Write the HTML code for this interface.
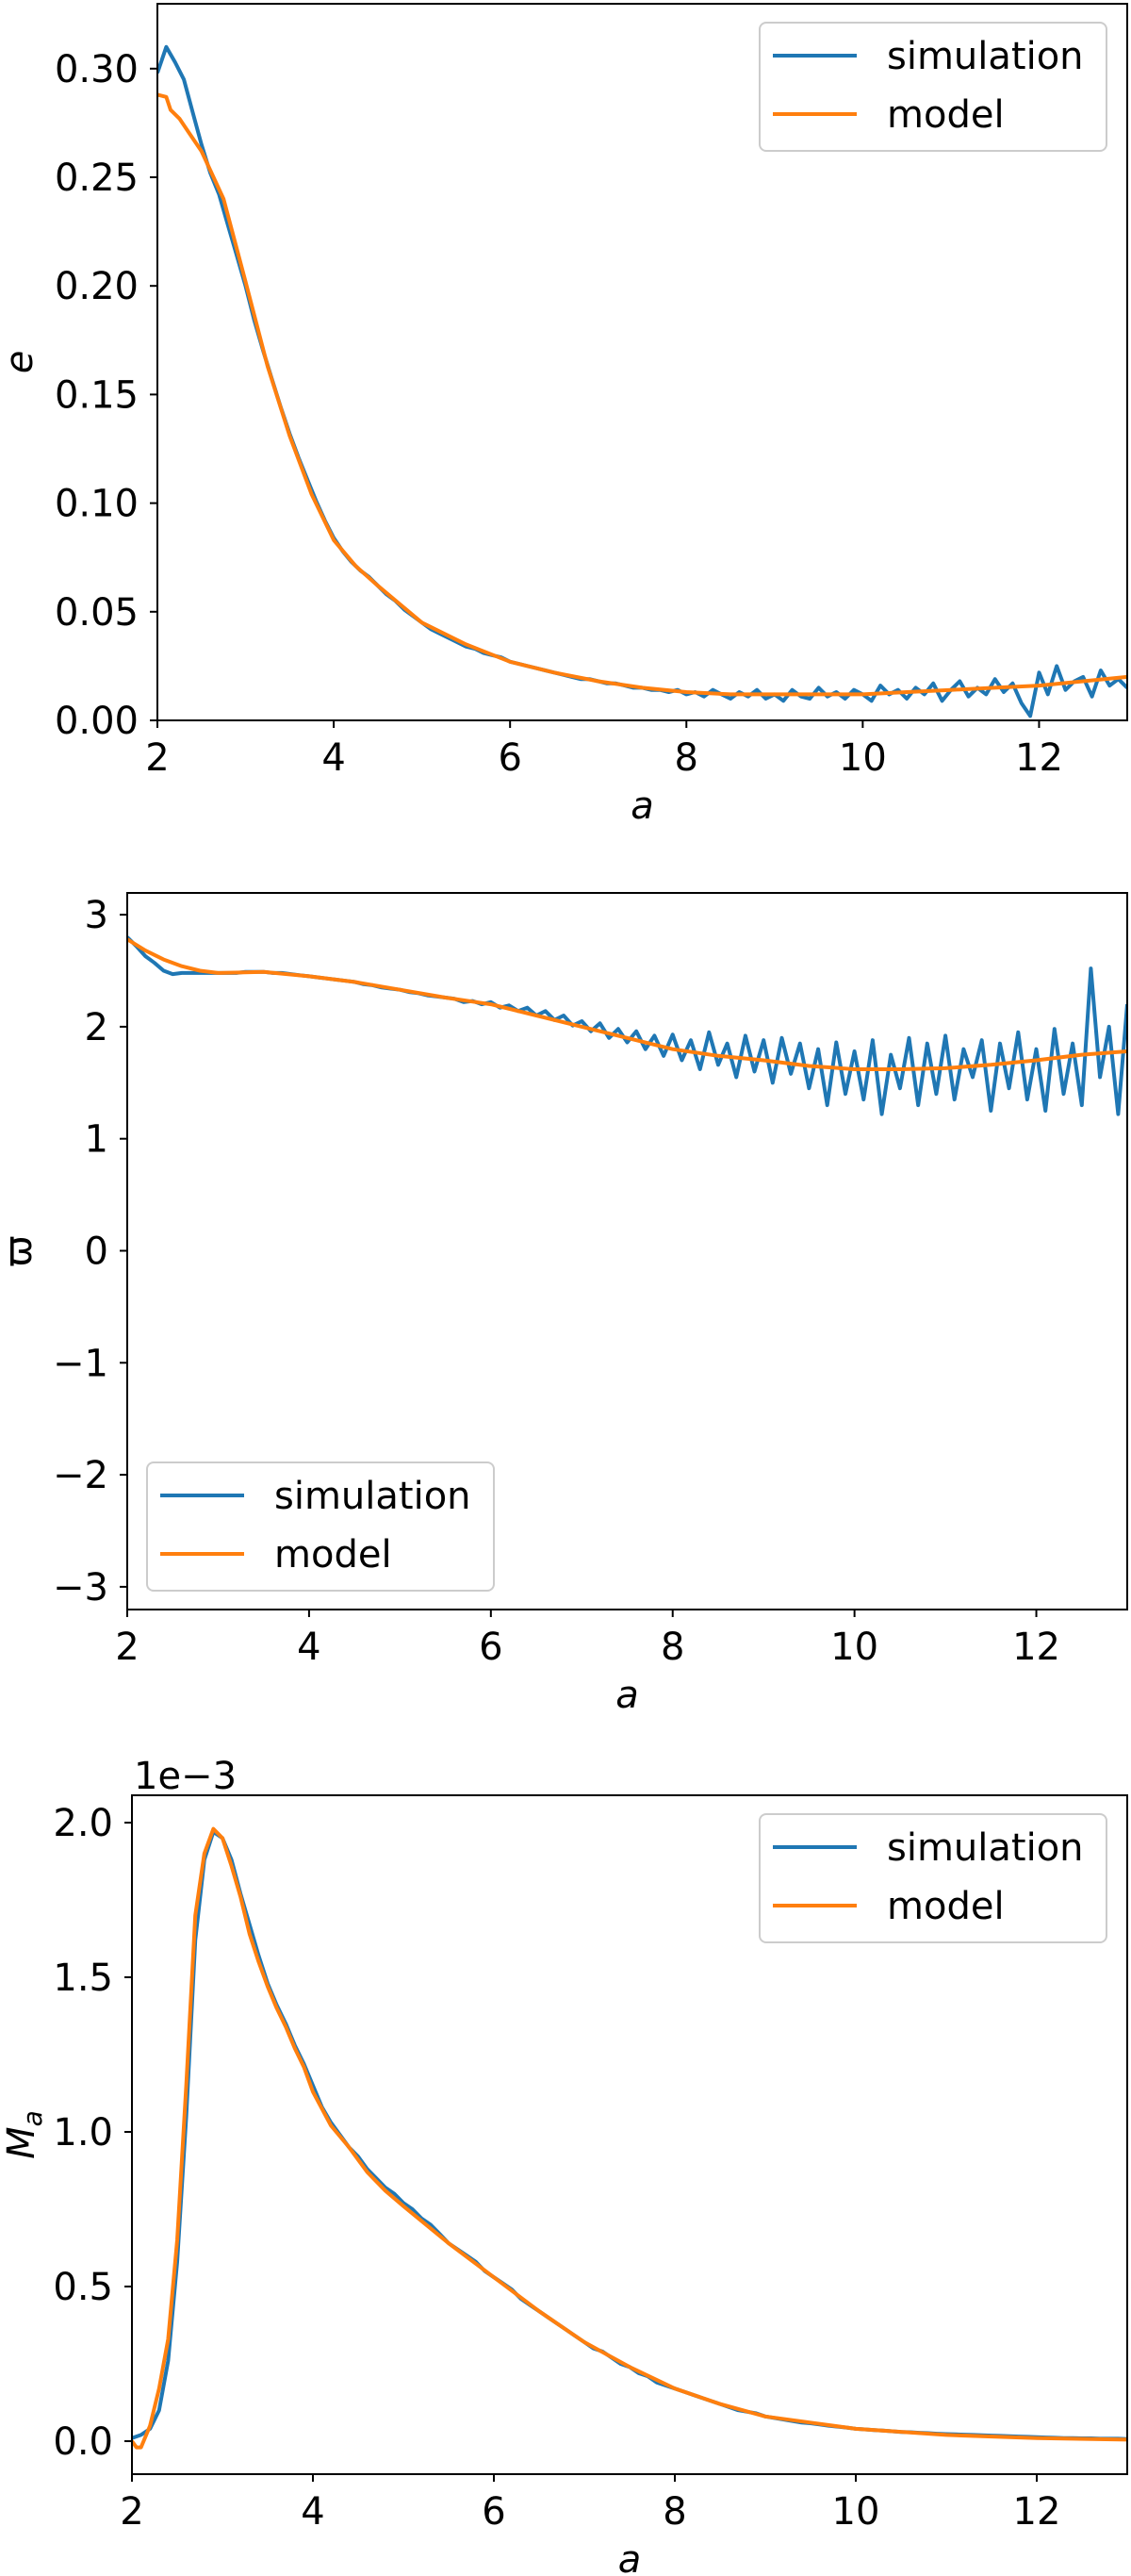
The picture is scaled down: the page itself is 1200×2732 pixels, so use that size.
<!DOCTYPE html>
<html><head><meta charset="utf-8"><style>
html,body{margin:0;padding:0;background:#fff;}
svg{display:block;font-family:"DejaVu Sans","Liberation Sans",sans-serif;}
</style></head><body>
<svg id="fig" width="1200" height="2732" viewBox="0 0 1200 2732" xmlns="http://www.w3.org/2000/svg"></svg>
<script>
// ---------- Panel 1: eccentricity ----------
const eSimA = [2.0,2.1,2.2,2.3,2.4,2.5,2.6,2.7,2.8,2.9,3.0,3.1,3.2,3.3,3.4,3.5,3.6,3.7,3.8,3.9,4.0,4.1,4.2,4.3,4.4,4.5,4.6,4.7,4.8,4.9,5.0,5.1,5.2,5.3,5.4,5.5,5.6,5.7,5.8,5.9,6.0,6.1,6.2,6.3,6.4,6.5,6.6,6.7,6.8,6.9,7.0,7.1,7.2,7.3,7.4,7.5,7.6,7.7,7.8,7.9,8.0,8.1,8.2,8.3,8.4,8.5,8.6,8.7,8.8,8.9,9.0,9.1,9.2,9.3,9.4,9.5,9.6,9.7,9.8,9.9,10.0,10.1,10.2,10.3,10.4,10.5,10.6,10.7,10.8,10.9,11.0,11.1,11.2,11.3,11.4,11.5,11.6,11.7,11.8,11.9,12.0,12.1,12.2,12.3,12.4,12.5,12.6,12.7,12.8,12.9,13.0];
const eSim = [0.298,0.310,0.303,0.295,0.280,0.265,0.252,0.242,0.228,0.214,0.200,0.184,0.170,0.157,0.144,0.132,0.121,0.111,0.101,0.092,0.084,0.078,0.073,0.069,0.066,0.062,0.058,0.055,0.051,0.048,0.045,0.042,0.040,0.038,0.036,0.034,0.033,0.031,0.030,0.029,0.027,0.026,0.025,0.024,0.023,0.022,0.021,0.020,0.019,0.019,0.018,0.017,0.017,0.016,0.015,0.015,0.014,0.014,0.013,0.014,0.012,0.013,0.011,0.014,0.012,0.010,0.013,0.011,0.014,0.010,0.012,0.009,0.014,0.011,0.010,0.015,0.011,0.013,0.010,0.014,0.012,0.009,0.016,0.012,0.014,0.010,0.015,0.012,0.017,0.009,0.014,0.018,0.011,0.015,0.012,0.019,0.013,0.017,0.008,0.002,0.022,0.012,0.025,0.014,0.018,0.020,0.011,0.023,0.016,0.019,0.015];
const eModA = [2.0,2.1,2.15,2.25,2.35,2.5,2.75,3.0,3.25,3.5,3.75,4.0,4.25,4.5,5.0,5.5,6.0,6.5,7.0,7.5,8.0,8.5,9.0,9.5,10.0,10.5,11.0,11.5,12.0,12.5,13.0];
const eMod = [0.288,0.287,0.281,0.277,0.271,0.262,0.240,0.202,0.163,0.131,0.104,0.083,0.071,0.062,0.045,0.035,0.027,0.022,0.018,0.015,0.013,0.012,0.012,0.012,0.012,0.013,0.014,0.015,0.016,0.018,0.020];
const eYTicks = [0.00,0.05,0.10,0.15,0.20,0.25,0.30];
const eYLabels = ["0.00","0.05","0.10","0.15","0.20","0.25","0.30"];

// ---------- Panel 2: longitude of pericentre ----------
const wSimA = eSimA;
const wSim = [2.80,2.72,2.63,2.57,2.50,2.47,2.48,2.48,2.48,2.48,2.48,2.48,2.48,2.49,2.49,2.49,2.48,2.48,2.47,2.46,2.45,2.44,2.43,2.42,2.41,2.40,2.38,2.37,2.35,2.34,2.33,2.31,2.30,2.28,2.27,2.26,2.25,2.22,2.23,2.20,2.22,2.17,2.19,2.14,2.17,2.10,2.14,2.06,2.10,2.01,2.05,1.96,2.03,1.90,1.98,1.86,1.96,1.80,1.92,1.74,1.93,1.70,1.88,1.62,1.95,1.66,1.85,1.55,1.92,1.60,1.88,1.50,1.90,1.58,1.85,1.45,1.80,1.30,1.86,1.40,1.78,1.35,1.88,1.22,1.75,1.45,1.90,1.30,1.85,1.40,1.92,1.35,1.80,1.55,1.88,1.25,1.85,1.45,1.95,1.35,1.80,1.25,1.98,1.40,1.85,1.30,2.52,1.55,2.00,1.22,2.20];
const wModA = [2.0,2.2,2.4,2.6,2.8,3.0,3.5,4.0,4.5,5.0,5.5,6.0,6.5,7.0,7.5,8.0,8.5,9.0,9.5,10.0,10.5,11.0,11.5,12.0,12.5,13.0];
const wMod = [2.78,2.68,2.60,2.54,2.50,2.48,2.49,2.45,2.40,2.33,2.26,2.20,2.10,2.00,1.90,1.80,1.74,1.70,1.65,1.62,1.62,1.63,1.66,1.70,1.75,1.78];
const wYTicks = [-3,-2,-1,0,1,2,3];
const wYLabels = ["\u22123","\u22122","\u22121","0","1","2","3"];

// ---------- Panel 3: M_a (units of 1e-3) ----------
const mSimA = eSimA;
const mSim = [0.01,0.02,0.04,0.10,0.26,0.58,1.05,1.62,1.88,1.97,1.95,1.88,1.77,1.67,1.57,1.48,1.41,1.35,1.28,1.22,1.15,1.08,1.03,0.99,0.95,0.92,0.88,0.85,0.82,0.80,0.77,0.75,0.72,0.70,0.67,0.64,0.62,0.60,0.58,0.55,0.53,0.51,0.49,0.46,0.44,0.42,0.40,0.38,0.36,0.34,0.32,0.30,0.29,0.27,0.25,0.24,0.22,0.21,0.19,0.18,0.17,0.16,0.15,0.14,0.13,0.12,0.11,0.10,0.095,0.09,0.08,0.075,0.07,0.065,0.06,0.058,0.054,0.05,0.047,0.044,0.04,0.038,0.036,0.034,0.032,0.030,0.029,0.027,0.026,0.024,0.023,0.022,0.021,0.020,0.019,0.018,0.017,0.016,0.015,0.014,0.013,0.012,0.011,0.010,0.010,0.009,0.009,0.008,0.008,0.008,0.007];
const mModA = [2.0,2.05,2.1,2.2,2.3,2.4,2.5,2.6,2.7,2.8,2.9,3.0,3.1,3.2,3.3,3.4,3.5,3.6,3.7,3.8,3.9,4.0,4.2,4.4,4.6,4.8,5.0,5.5,6.0,6.5,7.0,7.5,8.0,8.5,9.0,9.5,10.0,11.0,12.0,13.0];
const mMod = [0.0,-0.02,-0.02,0.05,0.17,0.33,0.65,1.15,1.70,1.90,1.98,1.95,1.86,1.76,1.64,1.55,1.47,1.40,1.34,1.27,1.21,1.13,1.02,0.95,0.87,0.81,0.76,0.64,0.53,0.42,0.32,0.24,0.17,0.12,0.08,0.06,0.04,0.02,0.01,0.005];
const mYTicks = [0.0,0.5,1.0,1.5,2.0];
const mYLabels = ["0.0","0.5","1.0","1.5","2.0"];

const xTicks = [2,4,6,8,10,12];
const xLabels = ["2","4","6","8","10","12"];

const NS = "http://www.w3.org/2000/svg";
const fig = document.getElementById('fig');
function mk(tag, attrs, parent){
  const el = document.createElementNS(NS, tag);
  for (const k in attrs) el.setAttribute(k, attrs[k]);
  (parent||fig).appendChild(el);
  return el;
}

function panel(p){
  const g = mk('g', {});
  
  
  const sx = v => p.left + (v - 2) / 11 * (p.right - p.left);
  const sy = v => p.y0px + (v - p.y0) * p.pxPerUnit * -1;
  // series
  function line(xs, ys, color, nm){
    let d = '';
    for (let i = 0; i < xs.length; i++) d += (i ? 'L' : 'M') + sx(xs[i]).toFixed(1) + ' ' + sy(ys[i]).toFixed(1);
    const pth = mk('path', {d: d, fill: 'none', stroke: color, 'stroke-width': 4, 'stroke-linejoin': 'round', 'stroke-linecap': 'square'}, g);
    
    
  }
  const clip = mk('clipPath', {id: 'clip-' + p.name}, g);
  mk('rect', {x: p.left, y: p.top, width: p.right - p.left, height: p.bottom - p.top}, clip);
  const sg = mk('g', {'clip-path': 'url(#clip-' + p.name + ')'}, g);
  const gg = g; 
  (function(){ const old = g; })();
  function lineIn(xs, ys, color, nm){
    let d = '';
    for (let i = 0; i < xs.length; i++) d += (i ? 'L' : 'M') + sx(xs[i]).toFixed(1) + ' ' + sy(ys[i]).toFixed(1);
    const pth = mk('path', {d: d, fill: 'none', stroke: color, 'stroke-width': 4, 'stroke-linejoin': 'round'}, sg);
    
    
  }
  lineIn(p.simA, p.sim, '#1f77b4', 'simulation-line');
  lineIn(p.modA, p.mod, '#ff7f0e', 'model-line');
  // frame
  const fr = mk('rect', {x: p.left, y: p.top, width: p.right - p.left, height: p.bottom - p.top, fill: 'none', stroke: '#000', 'stroke-width': 2}, g);
  
  
  // x ticks
  for (let i = 0; i < xTicks.length; i++){
    const x = sx(xTicks[i]);
    mk('line', {x1: x, x2: x, y1: p.bottom, y2: p.bottom + 8, stroke: '#000', 'stroke-width': 2}, g);
    const t = mk('text', {x: x, y: p.bottom + 53, 'font-size': 40, 'text-anchor': 'middle', fill: '#000'}, g);
    t.textContent = xLabels[i];
    
    
  }
  // y ticks
  for (let i = 0; i < p.yTicks.length; i++){
    const y = sy(p.yTicks[i]);
    mk('line', {x1: p.left - 8, x2: p.left, y1: y, y2: y, stroke: '#000', 'stroke-width': 2}, g);
    const t = mk('text', {x: p.left - 20, y: y + 14, 'font-size': 40, 'text-anchor': 'end', fill: '#000'}, g);
    t.textContent = p.yLabels[i];
    
    
  }
  // x axis title
  const xt = mk('text', {x: (p.left + p.right) / 2, y: p.bottom + 104, 'font-size': 40, 'font-style': 'italic', 'text-anchor': 'middle'}, g);
  xt.textContent = 'a';
  
  
  // y axis title
  const cy = (p.top + p.bottom) / 2;
  const yt = mk('text', {x: 0, y: 0, 'font-size': 40, 'text-anchor': 'middle', transform: 'translate(' + p.ylabX + ',' + cy + ') rotate(-90)'}, g);
  
  
  if (p.ylab === 'M'){
    const t1 = mk('tspan', {'font-style': 'italic'}, yt); t1.textContent = 'M';
    const t2 = mk('tspan', {'font-style': 'italic', 'font-size': 28, dy: 8}, yt); t2.textContent = 'a';
  } else if (p.ylab === 'w'){
    yt.textContent = '\u03D6';
  } else {
    yt.setAttribute('font-style', 'italic');
    yt.textContent = p.ylab;
  }
  // legend
  const L = p.legend;
  const lg = mk('g', {}, g);
  
  
  mk('rect', {x: L.x, y: L.y, width: 368, height: 136, rx: 7, fill: '#fff', 'fill-opacity': 0.8, stroke: '#cccccc', 'stroke-width': 2}, lg);
  const entries = [['simulation', '#1f77b4'], ['model', '#ff7f0e']];
  for (let i = 0; i < 2; i++){
    const ly = L.y + 35 + i * 62;
    const en = mk('g', {}, lg);
    
    
    mk('line', {x1: L.x + 14, x2: L.x + 103, y1: ly, y2: ly, stroke: entries[i][1], 'stroke-width': 4}, en);
    const t = mk('text', {x: L.x + 135, y: ly + 14, 'font-size': 40}, en);
    t.textContent = entries[i][0];
  }
  if (p.offset){
    const o = mk('text', {x: p.left + 2, y: p.top - 7, 'font-size': 40}, g);
    o.textContent = p.offset;
    
    
  }
}

panel({name: 'eccentricity-panel', left: 167, right: 1196, top: 4, bottom: 764,
  y0: 0, y0px: 764, pxPerUnit: 2304,
  simA: eSimA, sim: eSim, modA: eModA, mod: eMod,
  yTicks: eYTicks, yLabels: eYLabels, ylab: 'e', ylabX: 34,
  legend: {x: 806, y: 24}});

panel({name: 'pericentre-panel', left: 135, right: 1196, top: 947, bottom: 1707,
  y0: 0, y0px: 1326.5, pxPerUnit: 118.8,
  simA: wSimA, sim: wSim, modA: wModA, mod: wMod,
  yTicks: wYTicks, yLabels: wYLabels, ylab: 'w', ylabX: 33,
  legend: {x: 156, y: 1551}});

panel({name: 'mass-panel', left: 140, right: 1196, top: 1904, bottom: 2624,
  y0: 0, y0px: 2589, pxPerUnit: 328,
  simA: mSimA, sim: mSim, modA: mModA, mod: mMod,
  yTicks: mYTicks, yLabels: mYLabels, ylab: 'M', ylabX: 36,
  legend: {x: 806, y: 1924}, offset: '1e\u22123'});
</script>
</body></html>
